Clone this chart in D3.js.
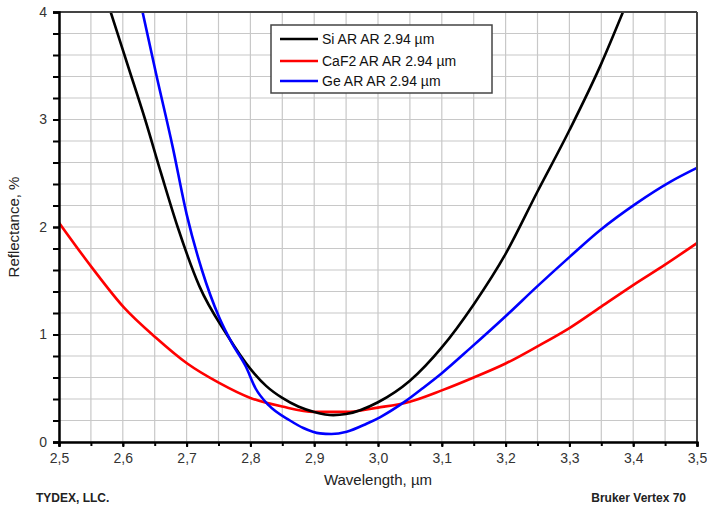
<!DOCTYPE html>
<html><head><meta charset="utf-8">
<script src="https://cdn.jsdelivr.net/npm/d3@7"></script>
<style>
html,body{margin:0;padding:0;background:#fff;}
svg text{font-family:Arial,"Liberation Sans",sans-serif;}
</style></head>
<body><svg id="c" width="707" height="506"></svg>
<script>
// ---- data ----
const xTicks = [2.5,2.6,2.7,2.8,2.9,3.0,3.1,3.2,3.3,3.4,3.5];
const xTickLabels = ["2,5","2,6","2,7","2,8","2,9","3,0","3,1","3,2","3,3","3,4","3,5"];
const yTicks = [0,1,2,3,4];
const yTickLabels = ["0","1","2","3","4"];

const siWavelength = [2.581,2.608,2.635,2.66,2.686,2.72,2.763,2.8,2.825,2.85,2.875,2.9,2.93,2.95,3.0,3.05,3.1,3.15,3.2,3.25,3.3,3.35,3.384];
const siReflectance = [4.0,3.5,3.0,2.5,2.0,1.45,1.0,0.68,0.52,0.41,0.33,0.28,0.25,0.26,0.37,0.57,0.88,1.28,1.75,2.33,2.9,3.52,4.0];

const caf2Wavelength = [2.5,2.552,2.602,2.652,2.701,2.751,2.80,2.85,2.90,2.95,3.0,3.05,3.10,3.15,3.20,3.25,3.30,3.35,3.40,3.45,3.5];
const caf2Reflectance = [2.04,1.62,1.25,0.97,0.73,0.55,0.41,0.33,0.28,0.28,0.32,0.375,0.48,0.60,0.73,0.89,1.06,1.26,1.46,1.65,1.85];

const geWavelength = [2.631,2.652,2.678,2.70,2.724,2.751,2.771,2.793,2.808,2.829,2.862,2.883,2.909,2.927,2.951,2.982,3.003,3.042,3.07,3.10,3.146,3.20,3.25,3.30,3.348,3.405,3.458,3.5];
const geReflectance = [4.0,3.43,2.75,2.12,1.60,1.16,0.92,0.70,0.50,0.34,0.20,0.13,0.08,0.075,0.096,0.17,0.23,0.375,0.50,0.64,0.88,1.17,1.45,1.72,1.97,2.22,2.42,2.55];

const seriesNames = ["Si AR AR 2.94 \u00b5m","CaF2 AR AR 2.94 \u00b5m","Ge AR AR 2.94 \u00b5m"];
const seriesColors = ["#000000","#ff0000","#0000ff"];

// ---- layout ----
const L = 59, R = 697, T = 12, B = 442;
const svg = d3.select("#c");
const x = d3.scaleLinear().domain([2.5,3.5]).range([L,R]);
const y = d3.scaleLinear().domain([0,4]).range([B,T]);

// grid
const gx = d3.range(0,21).map(i => 2.5 + i*0.05);
const gy = d3.range(0,21).map(i => i*0.2);
svg.append("g").selectAll("line").data(gx).join("line")
  .attr("x1", d=>x(d)).attr("x2", d=>x(d)).attr("y1", T).attr("y2", B)
  .attr("stroke","#c8c8c8").attr("stroke-width",1.2);
svg.append("g").selectAll("line").data(gy).join("line")
  .attr("x1", L).attr("x2", R).attr("y1", d=>y(d)).attr("y2", d=>y(d))
  .attr("stroke","#c8c8c8").attr("stroke-width",1.2);

// curves
svg.append("clipPath").attr("id","clip").append("rect")
  .attr("x",L).attr("y",T).attr("width",R-L).attr("height",B-T);
const line = d3.line().x(d=>x(d[0])).y(d=>y(d[1])).curve(d3.curveMonotoneX);
const series = [
  d3.zip(siWavelength, siReflectance),
  d3.zip(caf2Wavelength, caf2Reflectance),
  d3.zip(geWavelength, geReflectance)
];
const cg = svg.append("g").attr("clip-path","url(#clip)");
[1,0,2].forEach(i => {
  cg.append("path").attr("d", line(series[i])).attr("fill","none")
    .attr("stroke", seriesColors[i]).attr("stroke-width",2.6).attr("stroke-linejoin","round");
});

// frame (top/right)
svg.append("line").attr("x1",L).attr("x2",R).attr("y1",T).attr("y2",T).attr("stroke","#444").attr("stroke-width",2);
svg.append("line").attr("x1",R).attr("x2",R).attr("y1",T).attr("y2",B).attr("stroke","#444").attr("stroke-width",2);

// axes
const xMinor = d3.range(0,21).map(i => 2.5 + i*0.05);
const xAxis = d3.axisBottom(x).tickValues(xTicks).tickFormat((d,i)=>xTickLabels[i]).tickSize(5).tickPadding(6);
const xMinorAxis = d3.axisBottom(x).tickValues(xMinor).tickFormat("").tickSize(4);
const yAxis = d3.axisLeft(y).tickValues(yTicks).tickFormat((d,i)=>yTickLabels[i]).tickSize(6).tickPadding(6);
const yMinorAxis = d3.axisLeft(y).tickValues(gy).tickFormat("").tickSize(6);

function styleAxis(g){
  g.select(".domain").attr("stroke","#000").attr("stroke-width",2);
  g.selectAll(".tick line").attr("stroke","#000").attr("stroke-width",2);
  g.selectAll(".tick text").attr("fill","#333").style("font-size","14px");
}
svg.append("g").attr("transform",`translate(0,${B})`).call(xMinorAxis).call(styleAxis);
svg.append("g").attr("transform",`translate(0,${B})`).call(xAxis).call(styleAxis);
svg.append("g").attr("transform",`translate(${L},0)`).call(yMinorAxis).call(styleAxis);
svg.append("g").attr("transform",`translate(${L},0)`).call(yAxis).call(styleAxis);

// axis titles
svg.append("text").attr("x",(L+R)/2).attr("y",485).attr("text-anchor","middle")
  .attr("fill","#222").style("font-size","15px").text("Wavelength, \u00b5m");
svg.append("text").attr("transform",`translate(19,${(T+B)/2}) rotate(-90)`).attr("text-anchor","middle")
  .attr("fill","#222").style("font-size","15px").text("Reflectance, %");

// footer
svg.append("text").attr("x",36).attr("y",502).attr("fill","#222")
  .style("font-size","12px").style("font-weight","bold").text("TYDEX, LLC.");
svg.append("text").attr("x",686).attr("y",502).attr("text-anchor","end").attr("fill","#222")
  .style("font-size","12px").style("font-weight","bold").text("Bruker Vertex 70");

// legend
const lg = svg.append("g");
lg.append("rect").attr("x",271).attr("y",25).attr("width",221).attr("height",68)
  .attr("fill","#fff").attr("stroke","#444").attr("stroke-width",1.5);
const rowsY = [39,61,81];
seriesNames.forEach((n,i) => {
  lg.append("line").attr("x1",280).attr("x2",318).attr("y1",rowsY[i]).attr("y2",rowsY[i])
    .attr("stroke",seriesColors[i]).attr("stroke-width",2.6);
  lg.append("text").attr("x",322).attr("y",rowsY[i]).attr("dy","0.35em")
    .attr("fill","#111").style("font-size","14px").text(n);
});
</script></body></html>
